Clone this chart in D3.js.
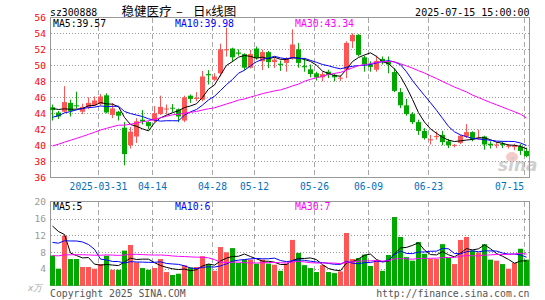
<!DOCTYPE html>
<html>
<head>
<meta charset="utf-8">
<script src="https://cdn.jsdelivr.net/npm/d3@7/dist/d3.min.js"></script>
<style>
  body { margin: 0; background: #fff; }
  text { font-family: "DejaVu Sans Mono", "Liberation Mono", monospace; }
</style>
</head>
<body>
<div id="kline"></div>
<script>
// handelsdagen (categorieen op de x-as)
const dates = ["2025-03-19","2025-03-20","2025-03-21","2025-03-24","2025-03-25","2025-03-26","2025-03-27","2025-03-28","2025-03-31",
  "2025-04-01","2025-04-02","2025-04-03","2025-04-07","2025-04-08","2025-04-09","2025-04-10","2025-04-11","2025-04-14",
  "2025-04-15","2025-04-16","2025-04-17","2025-04-18","2025-04-21","2025-04-22","2025-04-23","2025-04-24","2025-04-25","2025-04-28",
  "2025-04-29","2025-04-30","2025-05-06","2025-05-07","2025-05-08","2025-05-09","2025-05-12",
  "2025-05-13","2025-05-14","2025-05-15","2025-05-16","2025-05-19","2025-05-20","2025-05-21","2025-05-22","2025-05-23","2025-05-26",
  "2025-05-27","2025-05-28","2025-05-29","2025-05-30","2025-06-03","2025-06-04","2025-06-05","2025-06-06","2025-06-09",
  "2025-06-10","2025-06-11","2025-06-12","2025-06-13","2025-06-16","2025-06-17","2025-06-18","2025-06-19","2025-06-20","2025-06-23",
  "2025-06-24","2025-06-25","2025-06-26","2025-06-27","2025-06-30","2025-07-01","2025-07-02","2025-07-03","2025-07-04",
  "2025-07-07","2025-07-08","2025-07-09","2025-07-10","2025-07-11","2025-07-14","2025-07-15"]

// koersen per dag
const open = [44.75,44.1,44.2,45.3,45.0,44.2,44.8,45.0,45.15,46.25,
  43.8,44.2,42.2,40.0,41.1,43.2,42.9,43.1,43.9,44.5,
  44.7,44.5,43.1,46.2,45.8,45.7,48.9,48.2,49.0,51.9,
  52.1,51.6,51.4,49.7,52.1,50.5,51.65,50.4,50.2,50.3,
  50.9,52.0,49.9,49.5,49.0,48.5,49.2,48.8,48.4,49.45,
  53.0,53.8,51.0,50.1,49.45,50.8,50.5,49.15,46.65,45.0,
  43.9,42.9,41.8,40.65,41.05,41.3,40.5,40.0,40.3,41.1,
  41.65,40.9,41.1,40.2,40.0,40.2,39.85,39.8,39.85,39.3]
const high = [45.1,44.3,47.4,45.7,46.7,45.2,46.0,46.1,46.4,46.5,
  45.3,44.3,42.9,42.3,43.4,44.4,43.0,44.9,46.2,45.1,
  45.15,44.6,46.2,46.35,46.65,49.3,49.4,49.0,52.7,54.7,
  52.2,52.0,51.5,51.95,52.35,51.95,51.8,51.0,50.6,51.0,
  54.5,52.8,50.9,50.1,49.2,49.2,49.45,49.0,48.75,53.0,
  54.0,53.9,51.2,50.5,51.2,51.1,51.1,49.65,47.15,45.8,
  44.15,43.2,42.15,41.3,41.75,41.8,40.8,40.15,41.3,42.65,
  41.75,41.95,41.2,40.5,40.4,40.5,40.15,40.2,40.15,39.7]
const low = [43.1,43.3,44.1,43.6,44.6,43.9,44.5,44.9,45.0,44.0,
  43.4,43.1,37.5,39.6,40.3,42.6,42.0,42.9,43.8,43.85,
  44.15,42.9,42.9,45.3,45.5,45.5,47.6,48.0,48.6,51.1,
  50.4,51.2,49.4,49.6,50.7,49.4,49.65,49.65,49.3,49.2,
  50.7,49.7,49.2,48.5,48.1,48.0,48.4,48.0,48.05,48.4,
  52.15,51.1,49.2,49.2,49.2,50.1,49.0,46.65,44.65,43.7,
  42.65,41.3,40.7,40.1,40.7,40.0,39.65,39.75,40.15,40.9,
  40.5,40.7,39.45,39.6,39.65,39.65,39.6,39.4,38.8,38.5]
const close = [44.4,43.6,45.4,44.3,44.9,44.8,45.3,45.6,46.1,44.1,
  44.6,43.7,38.9,41.7,43.0,43.0,42.4,44.0,44.8,44.6,
  44.6,43.6,46.0,45.8,45.95,48.6,48.75,48.6,52.0,52.0,
  51.0,51.45,49.7,51.4,50.9,51.65,50.4,50.7,50.05,50.9,
  52.6,50.3,49.75,48.9,48.5,48.9,48.8,48.5,48.45,52.8,
  53.8,51.3,50.1,49.8,50.55,50.5,50.1,46.8,45.0,43.9,
  42.9,41.8,40.9,40.75,41.15,40.4,40.0,40.05,41.2,41.65,
  40.75,41.0,40.1,40.0,40.1,40.05,39.95,39.9,39.3,38.65]

// volume (x万)
const volume = [7.2,4.05,11.9,6.35,6.35,4.45,4.45,4.05,5.15,7.15,
  3.8,3.8,8.35,9.7,5.55,4.2,3.8,4.2,6.35,3.25,
  2.55,2.85,4.85,4.35,4.45,7.0,5.15,3.55,9.2,7.95,
  8.95,5.4,6.2,6.2,5.25,6.2,5.25,5.0,3.55,5.25,
  10.9,7.8,4.9,4.2,3.25,4.9,3.25,3.0,3.4,12.55,
  6.35,6.6,7.4,4.7,6.1,3.55,7.3,16.35,11.6,6.8,
  5.95,10.4,7.6,6.35,6.35,9.9,6.6,5.15,10.9,11.6,
  8.35,7.9,9.9,6.2,5.95,5.15,4.05,5.4,8.8,6.2]

// dagen voor het zichtbare venster (geschat uit het begin van de MA-lijnen)
const priorClose = [37.2,37.6,37.3,37.8,37.5,37.4,37.9,37.6,
  38.0,38.3,38.1,38.6,38.4,38.2,38.8,38.5,38.7,39.0,38.6,39.2,
  41.5,42.0,42.6,42.8,43.1,44.2,45.0,44.6,44.8]
const priorVolume = [5.2,4.8,6.1,5.5,4.9,5.8,6.3,5.0,4.6,5.4,
  6.0,5.7,5.1,4.9,6.4,5.9,5.3,5.8,6.2,6.6,
  5.8,6.1,6.9,6.4,6.8,10.55,15.5,28.4,9.35]

// as-labels
const priceTicks = [56,54,52,50,48,46,44,42,40,38,36]
const volTicks = [20,16,12,8,4]
const tickDates = ["2025-03-31","2025-04-14","2025-04-28","2025-05-12","2025-05-26","2025-06-09","2025-06-23","2025-07-15"]
const tickLabels = ["2025-03-31","04-14","04-28","05-12","05-26","06-09","06-23","07-15"]
const priceMaText = ["MA5:39.57","MA10:39.98","MA30:43.34"]
const volMaText = ["MA5:5","MA10:6","MA30:7"]

const width = 545
const height = 300
const up = "#ff5555"
const down = "#00a800"
const maColors = ["#000000","#0000ff","#ff00ff"]

var svg = d3.select("#kline").append("svg")
    .attr("width", width)
    .attr("height", height)

var xScale = d3.scalePoint().domain(dates).range([52, 526])
var yPrice = d3.scaleLinear().domain([36, 56]).range([177.3, 17.3])
var yVol = d3.scaleLinear().domain([0, 20]).range([285.7, 201.7])

// voortschrijdend gemiddelde
function movingAvg(series, prior, n) {
  var all = prior.concat(series)
  return series.map(function(d, i) {
    var end = i + prior.length + 1
    return d3.mean(all.slice(end - n, end))
  })
}

// kop
svg.append("text").attr("x", 50).attr("y", 15.5).attr("font-size", "9.8px").text("sz300888")
var title = svg.append("text").attr("x", 121.5).attr("y", 15.5)
    .style("font-family", "'Noto Sans CJK SC', sans-serif").attr("font-size", "12.5px")
title.append("tspan").text("稳健医疗")
title.append("tspan").attr("x", 176).text("–")
title.append("tspan").attr("x", 193).text("日")
title.append("tspan").attr("font-size", "9px").text("K")
title.append("tspan").text("线图")
svg.append("text").attr("x", 529.5).attr("y", 15.5).attr("text-anchor", "end")
    .attr("font-size", "10px").text("2025-07-15 15:00:00")

// sina watermerk
var wm = svg.append("g").attr("class", "watermark")
wm.append("ellipse").attr("cx", 512).attr("cy", 157).attr("rx", 6).attr("ry", 5).attr("fill", "#f7c9c9")
wm.append("text").attr("x", 498).attr("y", 171).attr("font-size", "17px")
    .style("font-family", "'DejaVu Sans', sans-serif").attr("font-weight", "bold").attr("font-style", "italic")
    .attr("fill", "#cfcfcf").text("sina")

// raster voor beide panelen
function drawGrid(yScale, hTicks, top, bottom) {
  var g = svg.append("g").attr("class", "grid")
  g.selectAll(".h").data(hTicks).enter().append("line")
      .attr("x1", 51).attr("x2", 529)
      .attr("y1", function(d) { return Math.round(yScale(d)) + 0.5 })
      .attr("y2", function(d) { return Math.round(yScale(d)) + 0.5 })
      .attr("stroke", "#999").attr("stroke-dasharray", "1,2")
  g.selectAll(".v").data(tickDates).enter().append("line")
      .attr("x1", function(d) { return xScale(d) - 1.5 })
      .attr("x2", function(d) { return xScale(d) - 1.5 })
      .attr("y1", top).attr("y2", bottom)
      .attr("stroke", "#a8a8a8").attr("stroke-dasharray", "5,3")
}
drawGrid(yPrice, [54,52,50,48,46,44,42,40,38], 18, 177)
drawGrid(yVol, [16,12,8,4], 202, 285)

// kaders
svg.append("rect").attr("x", 50.5).attr("y", 17.5).attr("width", 479).attr("height", 160)
    .attr("fill", "none").attr("stroke", "#999")
svg.append("rect").attr("x", 50.5).attr("y", 201.5).attr("width", 479).attr("height", 84)
    .attr("fill", "none").attr("stroke", "#999")

// y-as labels
svg.append("g").selectAll("text").data(priceTicks).enter().append("text")
    .attr("x", 46).attr("y", function(d) { return yPrice(d) + 3.5 })
    .attr("text-anchor", "end").attr("font-size", "9.5px").attr("fill", "#ff0000")
    .text(function(d) { return d })
svg.append("g").selectAll("text").data(volTicks).enter().append("text")
    .attr("x", 46).attr("y", function(d) { return yVol(d) + 3.5 })
    .attr("text-anchor", "end").attr("font-size", "9.5px").attr("fill", "#999")
    .text(function(d) { return d })
svg.append("text").attr("x", 28).attr("y", 291).attr("font-size", "9px").attr("fill", "#aaa")
    .attr("font-style", "italic").text("x万")

// x-as labels
svg.append("g").selectAll("text").data(tickDates).enter().append("text")
    .attr("x", function(d, i) { return i == tickDates.length - 1 ? xScale(d) - 2 : xScale(d) - 1.5 })
    .attr("y", 189.5)
    .attr("text-anchor", function(d, i) { return i == tickDates.length - 1 ? "end" : "middle" })
    .attr("font-size", "9.6px").attr("fill", "#0070c0")
    .text(function(d, i) { return tickLabels[i] })

// candles
var idx = d3.range(dates.length)
var candles = svg.append("g").attr("class", "candles")
candles.selectAll("line").data(idx).enter().append("line")
    .attr("x1", function(i) { return xScale(dates[i]) + 0.5 })
    .attr("x2", function(i) { return xScale(dates[i]) + 0.5 })
    .attr("y1", function(i) { return yPrice(high[i]) })
    .attr("y2", function(i) { return yPrice(low[i]) })
    .attr("stroke", function(i) { return close[i] >= open[i] ? up : down })
candles.selectAll("rect").data(idx).enter().append("rect")
    .attr("x", function(i) { return xScale(dates[i]) - 2 })
    .attr("width", 5)
    .attr("y", function(i) { return yPrice(Math.max(open[i], close[i])) })
    .attr("height", function(i) { return Math.max(1, Math.abs(yPrice(open[i]) - yPrice(close[i]))) })
    .attr("fill", function(i) { return close[i] >= open[i] ? up : down })

// volume staven
svg.append("g").attr("class", "vol").selectAll("rect").data(idx).enter().append("rect")
    .attr("x", function(i) { return xScale(dates[i]) - 2 })
    .attr("width", 5)
    .attr("y", function(i) { return yVol(volume[i]) })
    .attr("height", function(i) { return yVol(0) - yVol(volume[i]) })
    .attr("fill", function(i) { return close[i] >= open[i] ? up : down })

// MA lijnen
function drawMa(series, prior, yScale) {
  [5, 10, 30].forEach(function(n, k) {
    var vals = movingAvg(series, prior, n)
    var line = d3.line()
        .x(function(d, i) { return xScale(dates[i]) + 0.5 })
        .y(function(d) { return yScale(d) })
    svg.append("path").datum(vals)
        .attr("d", line).attr("fill", "none")
        .attr("stroke", maColors[k]).attr("stroke-width", 1)
  })
}
drawMa(close, priorClose, yPrice)
drawMa(volume, priorVolume, yVol)

// MA labels
var labelX = [53, 175, 295]
svg.append("g").selectAll("text").data(priceMaText).enter().append("text")
    .attr("x", function(d, i) { return labelX[i] }).attr("y", 27)
    .attr("font-size", "9.8px").attr("fill", function(d, i) { return maColors[i] })
    .text(function(d) { return d })
svg.append("g").selectAll("text").data(volMaText).enter().append("text")
    .attr("x", function(d, i) { return labelX[i] }).attr("y", 210)
    .attr("font-size", "9.8px").attr("fill", function(d, i) { return maColors[i] })
    .text(function(d) { return d })

// voettekst
svg.append("text").attr("x", 50).attr("y", 297).attr("font-size", "9.8px").attr("fill", "#555")
    .text("Copyright 2025 SINA.COM")
svg.append("text").attr("x", 529.5).attr("y", 297).attr("text-anchor", "end")
    .attr("font-size", "9.8px").attr("fill", "#555").text("http://finance.sina.com.cn")
</script>
</body>
</html>
